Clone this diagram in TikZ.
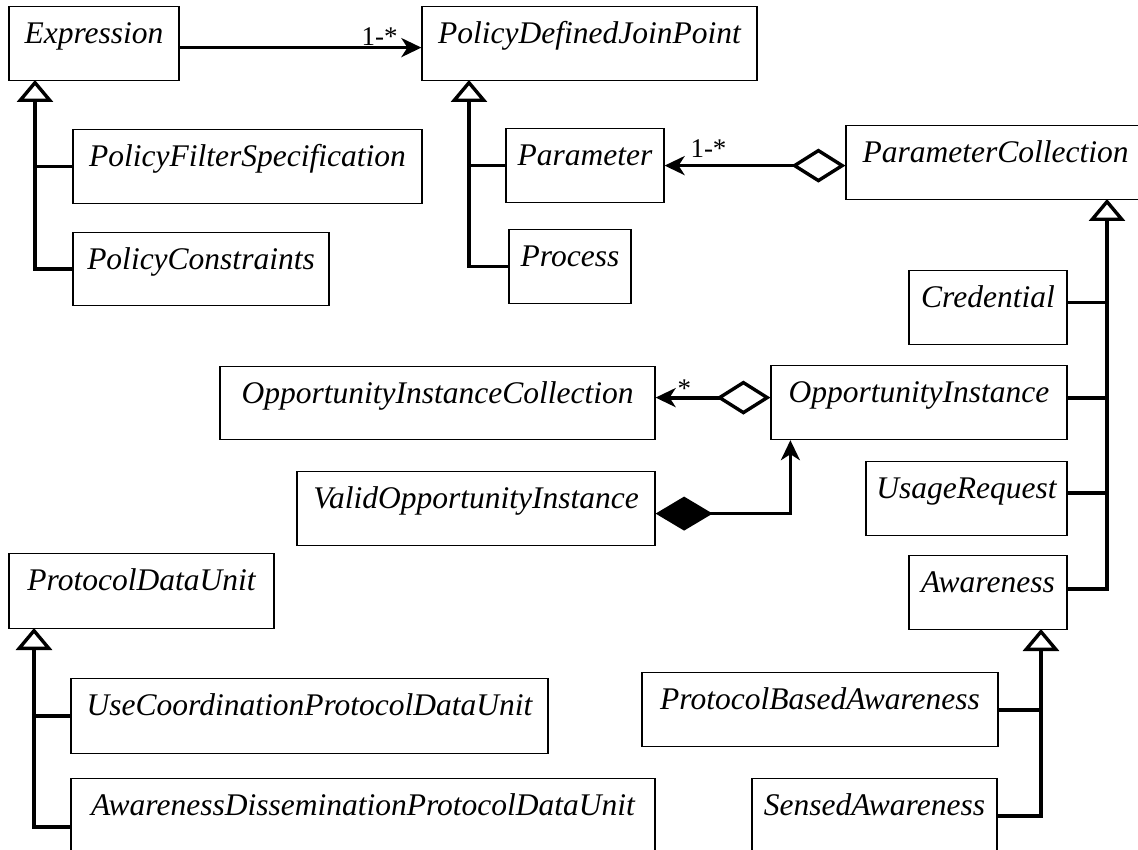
\documentclass[tikz,border=0pt]{standalone}
\usepackage{fontspec}
\setmainfont{Liberation Serif}
\usetikzlibrary{arrows.meta,calc}
\newcommand\umlclass[6]{%
  \pgfmathsetmacro\umlW{#4-#2}%
  \pgfmathsetmacro\umlD{#5-#3-37}%
  \pgfmathsetmacro\umlX{(#2+#4)/2}%
  \node[cls, minimum width=\umlW pt, text depth=\umlD pt, anchor=north] (#1) at (\umlX,#3) {#6};}
\tikzset{
  cls/.style={draw, line width=1.2pt, inner sep=0pt, text height=37pt,
    font=\fontsize{31.5}{31.5}\selectfont\itshape},
  link/.style={line width=3.8pt},
  gen/.style={link, -{Triangle[open, length=22pt, width=36pt, line width=3.4pt]}},
  nav/.style={link, -{Stealth[length=20pt, width=19pt, inset=6pt]}},
  agg/.style={link, {Diamond[open, length=54pt, width=34pt, line width=3.4pt]}-{Stealth[length=20pt, width=19pt, inset=6pt]}},
  comp/.style={line width=3.3pt, {Diamond[length=57pt, width=34pt]}-{Stealth[length=20pt, width=19pt, inset=6pt]}},
  mult/.style={inner sep=0pt, font=\fontsize{27}{27}\selectfont},
}
\begin{document}
\begin{tikzpicture}[x=1pt, y=-1pt]
\useasboundingbox (0,0) rectangle (1138,850);
\clip (0,0) rectangle (1138,850);
% classes
\umlclass{Expr}{9}{6}{179}{80}{Expression}
\umlclass{PDJP}{422}{6}{757}{80}{PolicyDefinedJoinPoint}
\umlclass{PFS}{73}{129}{422}{203}{PolicyFilterSpecification}
\umlclass{PolC}{73}{232}{329}{305}{PolicyConstraints}
\umlclass{Param}{506}{128}{664}{202}{Parameter}
\umlclass{Proc}{509}{229}{631}{303}{Process}
\umlclass{PCol}{846}{125}{1145}{199}{ParameterCollection}
\umlclass{Cred}{909}{270}{1067}{344}{Credential}
\umlclass{OIC}{220}{366}{655}{439}{OpportunityInstanceCollection}
\umlclass{OI}{771}{365}{1067}{439}{OpportunityInstance}
\umlclass{VOI}{297}{471}{655}{545}{ValidOpportunityInstance}
\umlclass{UR}{866}{461}{1067}{535}{UsageRequest}
\umlclass{Aw}{909}{555}{1067}{629}{Awareness}
\umlclass{PDU}{9}{553}{274}{628}{ProtocolDataUnit}
\umlclass{UCP}{71}{678}{548}{753}{UseCoordinationProtocolDataUnit}
\umlclass{ADP}{71}{778}{655}{852}{AwarenessDisseminationProtocolDataUnit}
\umlclass{PBA}{642}{672}{998}{746}{ProtocolBasedAwareness}
\umlclass{SA}{752}{778}{997}{852}{SensedAwareness}
% generalization: Expression
\coordinate (gE) at (35,80);
\draw[gen] (PolC.west) -| (gE);
\draw[link] (PFS.west) -- (PFS.west -| gE);
% generalization: PolicyDefinedJoinPoint
\coordinate (gJ) at (469,80);
\draw[gen] (Proc.west) -| (gJ);
\draw[link] (Param.west) -- (Param.west -| gJ);
% association Expression -> PDJP
\coordinate (eA) at ([yshift=-4pt]Expr.east);
\draw[nav] (eA) -- node[mult, pos=1, anchor=base east, xshift=-22pt, yshift=2pt] {1-*} (eA -| PDJP.west);
% aggregation ParameterCollection -> Parameter
\draw[agg] (Param.east -| PCol.west) -- node[mult, pos=1, anchor=base west, xshift=24pt, yshift=8pt] {1-*} (Param.east);
% generalization: ParameterCollection
\coordinate (gP) at (1107,199);
\coordinate (cW) at ([yshift=4pt]Aw.east);
\draw[gen] (cW) -| (gP);
\coordinate (cC) at ([yshift=5pt]Cred.east);
\draw[link] (cC) -- (cC -| gP);
\coordinate (cO) at ([yshift=5pt]OI.east);
\draw[link] (cO) -- (cO -| gP);
\coordinate (cU) at ([yshift=6pt]UR.east);
\draw[link] (cU) -- (cU -| gP);
% aggregation OpportunityInstance -> OpportunityInstanceCollection
\coordinate (aO) at ([yshift=5pt]OI.west);
\draw[agg] (aO) -- node[mult, pos=1, anchor=base west, xshift=20pt, yshift=0pt] {*} (aO -| OIC.east);
% composition ValidOpportunityInstance -> OpportunityInstance
\coordinate (vV) at ([yshift=-5pt]VOI.east);
\coordinate (vO) at ([xshift=20pt]OI.south west);
\draw[comp] (vV) -| (vO);
% generalization: ProtocolDataUnit
\coordinate (gD) at (34,628);
\coordinate (cA) at ([yshift=-11pt]ADP.west);
\draw[gen] (cA) -| (gD);
\draw[link] (UCP.west) -- (UCP.west -| gD);
% generalization: Awareness
\coordinate (gA) at (1041,629);
\draw[gen] (SA.east) -| (gA);
\draw[link] (PBA.east) -- (PBA.east -| gA);
\end{tikzpicture}
\end{document}
